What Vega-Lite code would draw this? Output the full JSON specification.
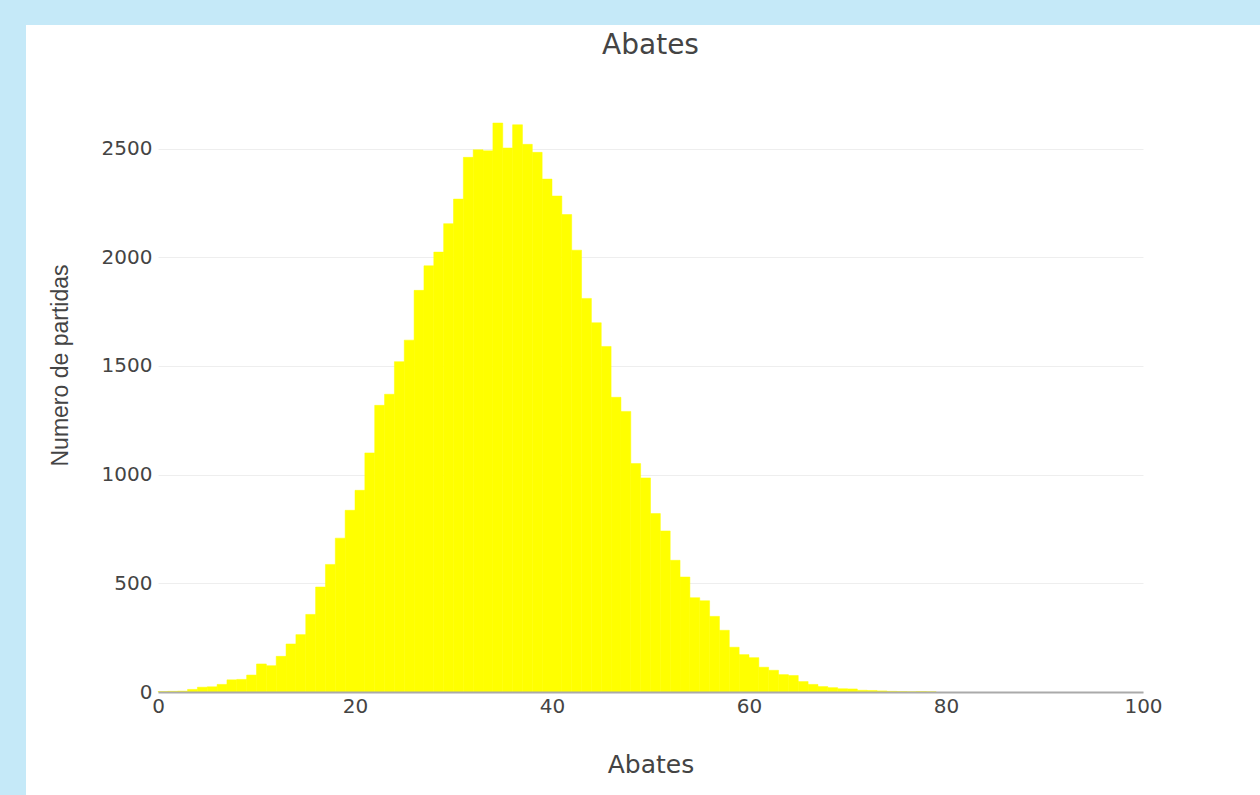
{
  "$schema": "https://vega.github.io/schema/vega-lite/v6.json",
  "background": "white",
  "padding": 0,
  "config": {"view": {"stroke": null}},
  "columns": 3,
  "align": "each",
  "bounds": "flush",
  "spacing": 0,
  "concat": [
    {
      "width": 26, "height": 25,
      "view": {"fill": "#c5e9f8", "stroke": null},
      "data": {"values": []}, "mark": "point", "encoding": {}
    },
    {
      "width": 132, "height": 25,
      "view": {"fill": "#c5e9f8", "stroke": null},
      "data": {"values": []}, "mark": "point", "encoding": {}
    },
    {
      "width": 1102, "height": 25,
      "view": {"fill": "#c5e9f8", "stroke": null},
      "data": {"values": []}, "mark": "point", "encoding": {}
    },
    {
      "width": 26, "height": 770,
      "view": {"fill": "#c5e9f8", "stroke": null},
      "data": {"values": []}, "mark": "point", "encoding": {}
    },
    {
      "width": 132, "height": 770,
      "view": {"stroke": null},
      "data": {"values": []}, "mark": "point", "encoding": {}
    },
    {
      "width": 985,
      "height": 667,
      "title": {"text": "Abates", "font": "DejaVu Sans", "fontSize": 28, "fontWeight": "normal", "color": "#444444", "offset": 0, "dy": 35, "anchor": "middle"},
      "data": {"values": [
        {"inicio": 0, "fin": 1, "partidas": 2},
        {"inicio": 1, "fin": 2, "partidas": 3},
        {"inicio": 2, "fin": 3, "partidas": 4},
        {"inicio": 3, "fin": 4, "partidas": 12},
        {"inicio": 4, "fin": 5, "partidas": 22},
        {"inicio": 5, "fin": 6, "partidas": 24},
        {"inicio": 6, "fin": 7, "partidas": 35},
        {"inicio": 7, "fin": 8, "partidas": 56},
        {"inicio": 8, "fin": 9, "partidas": 58},
        {"inicio": 9, "fin": 10, "partidas": 78},
        {"inicio": 10, "fin": 11, "partidas": 129},
        {"inicio": 11, "fin": 12, "partidas": 121},
        {"inicio": 12, "fin": 13, "partidas": 164},
        {"inicio": 13, "fin": 14, "partidas": 221},
        {"inicio": 14, "fin": 15, "partidas": 264},
        {"inicio": 15, "fin": 16, "partidas": 357},
        {"inicio": 16, "fin": 17, "partidas": 483},
        {"inicio": 17, "fin": 18, "partidas": 587},
        {"inicio": 18, "fin": 19, "partidas": 708},
        {"inicio": 19, "fin": 20, "partidas": 836},
        {"inicio": 20, "fin": 21, "partidas": 928},
        {"inicio": 21, "fin": 22, "partidas": 1100},
        {"inicio": 22, "fin": 23, "partidas": 1319},
        {"inicio": 23, "fin": 24, "partidas": 1370},
        {"inicio": 24, "fin": 25, "partidas": 1520},
        {"inicio": 25, "fin": 26, "partidas": 1619},
        {"inicio": 26, "fin": 27, "partidas": 1848},
        {"inicio": 27, "fin": 28, "partidas": 1961},
        {"inicio": 28, "fin": 29, "partidas": 2024},
        {"inicio": 29, "fin": 30, "partidas": 2155},
        {"inicio": 30, "fin": 31, "partidas": 2268},
        {"inicio": 31, "fin": 32, "partidas": 2460},
        {"inicio": 32, "fin": 33, "partidas": 2495},
        {"inicio": 33, "fin": 34, "partidas": 2490},
        {"inicio": 34, "fin": 35, "partidas": 2618},
        {"inicio": 35, "fin": 36, "partidas": 2503},
        {"inicio": 36, "fin": 37, "partidas": 2610},
        {"inicio": 37, "fin": 38, "partidas": 2520},
        {"inicio": 38, "fin": 39, "partidas": 2483},
        {"inicio": 39, "fin": 40, "partidas": 2360},
        {"inicio": 40, "fin": 41, "partidas": 2282},
        {"inicio": 41, "fin": 42, "partidas": 2197},
        {"inicio": 42, "fin": 43, "partidas": 2033},
        {"inicio": 43, "fin": 44, "partidas": 1811},
        {"inicio": 44, "fin": 45, "partidas": 1699},
        {"inicio": 45, "fin": 46, "partidas": 1590},
        {"inicio": 46, "fin": 47, "partidas": 1356},
        {"inicio": 47, "fin": 48, "partidas": 1291},
        {"inicio": 48, "fin": 49, "partidas": 1051},
        {"inicio": 49, "fin": 50, "partidas": 985},
        {"inicio": 50, "fin": 51, "partidas": 821},
        {"inicio": 51, "fin": 52, "partidas": 741},
        {"inicio": 52, "fin": 53, "partidas": 606},
        {"inicio": 53, "fin": 54, "partidas": 529},
        {"inicio": 54, "fin": 55, "partidas": 434},
        {"inicio": 55, "fin": 56, "partidas": 420},
        {"inicio": 56, "fin": 57, "partidas": 348},
        {"inicio": 57, "fin": 58, "partidas": 284},
        {"inicio": 58, "fin": 59, "partidas": 206},
        {"inicio": 59, "fin": 60, "partidas": 172},
        {"inicio": 60, "fin": 61, "partidas": 158},
        {"inicio": 61, "fin": 62, "partidas": 114},
        {"inicio": 62, "fin": 63, "partidas": 100},
        {"inicio": 63, "fin": 64, "partidas": 80},
        {"inicio": 64, "fin": 65, "partidas": 76},
        {"inicio": 65, "fin": 66, "partidas": 48},
        {"inicio": 66, "fin": 67, "partidas": 35},
        {"inicio": 67, "fin": 68, "partidas": 25},
        {"inicio": 68, "fin": 69, "partidas": 20},
        {"inicio": 69, "fin": 70, "partidas": 15},
        {"inicio": 70, "fin": 71, "partidas": 14},
        {"inicio": 71, "fin": 72, "partidas": 8},
        {"inicio": 72, "fin": 73, "partidas": 7},
        {"inicio": 73, "fin": 74, "partidas": 5},
        {"inicio": 74, "fin": 75, "partidas": 3},
        {"inicio": 75, "fin": 76, "partidas": 2},
        {"inicio": 76, "fin": 77, "partidas": 1},
        {"inicio": 77, "fin": 78, "partidas": 2},
        {"inicio": 78, "fin": 79, "partidas": 1}
      ]},
      "mark": {"type": "rect", "color": "#ffff00", "stroke": "#ffff00", "strokeWidth": 0.5},
      "encoding": {
        "x": {
          "field": "inicio",
          "type": "quantitative",
          "title": "Abates",
          "scale": {"domain": [0, 100], "nice": false},
          "axis": {
            "values": [0, 20, 40, 60, 80, 100],
            "grid": false,
            "ticks": false,
            "domainColor": "#aaaaaa",
            "domainWidth": 2,
            "labelFont": "DejaVu Sans",
            "labelFontSize": 20,
            "labelColor": "#444444",
            "labelPadding": 4,
            "labelFlush": false,
            "titleFont": "DejaVu Sans",
            "titleFontSize": 25,
            "titleFontWeight": "normal",
            "titleColor": "#444444",
            "titlePadding": 36,
            "zindex": 1
          }
        },
        "x2": {"field": "fin"},
        "y": {
          "field": "partidas",
          "type": "quantitative",
          "title": "Numero de partidas",
          "scale": {"domain": [0, 3069], "nice": false},
          "axis": {
            "values": [0, 500, 1000, 1500, 2000, 2500],
            "format": "d",
            "grid": true,
            "gridColor": "#eeeeee",
            "gridWidth": 1,
            "domain": false,
            "ticks": false,
            "labelFont": "DejaVu Sans",
            "labelFontSize": 20,
            "labelColor": "#444444",
            "labelPadding": 6,
            "titleFont": "Liberation Sans",
            "titleFontSize": 23,
            "titleFontWeight": "normal",
            "titleColor": "#444444",
            "titlePadding": 29,
            "titleY": 340,
            "zindex": 0
          }
        }
      }
    }
  ]
}
